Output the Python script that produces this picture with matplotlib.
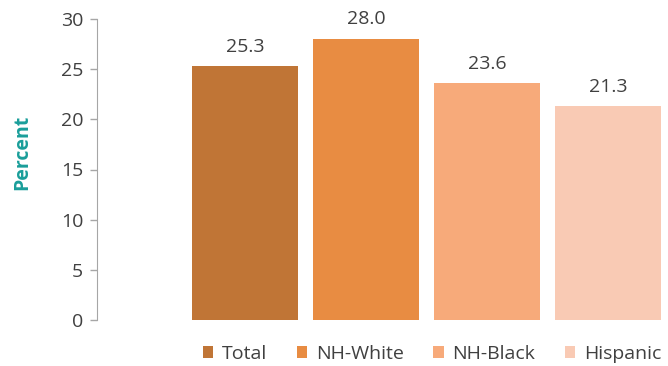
import matplotlib
matplotlib.use("Agg")
import matplotlib.pyplot as plt
from matplotlib.patches import Patch

# data
groups = ["Total", "NH-White", "NH-Black", "Hispanic"]
percent = [25.3, 28.0, 23.6, 21.3]
colors = ["#C07536", "#E88C42", "#F7AA7A", "#F9CAB4"]
yticks = [0, 5, 10, 15, 20, 25, 30]

text_color = "#404040"
teal = "#1A9E9A"
plt.rcParams["font.family"] = ["Open Sans", "DejaVu Sans"]

fig = plt.figure(figsize=(6.68, 3.66), dpi=100)
ax = fig.add_axes([97 / 668, 46 / 366, 568 / 668, 301 / 366])

xs = list(range(1, len(groups) + 1))
ax.bar(xs, percent, width=0.874, color=colors)

for x, v in zip(xs, percent):
    ax.annotate(f"{v:.1f}", (x, v), xytext=(0, 10.5), textcoords="offset points",
                ha="center", va="baseline", fontsize=14, color=text_color)

ax.set_xlim(-0.22, 4.47)
ax.set_ylim(0, 30)
ax.set_yticks(yticks)
ax.set_xticks([])
ax.tick_params(axis="y", direction="out", length=5, width=1, color="#A6A6A6",
               labelsize=14, labelcolor=text_color, pad=5)
for side in ["top", "right", "bottom"]:
    ax.spines[side].set_visible(False)
ax.spines["left"].set_color("#A6A6A6")

fig.text(22 / 668, 1 - 152 / 366, "Percent", rotation=90, ha="center", va="center",
         fontsize=14, fontweight="bold", color=teal)

handles = [Patch(facecolor=c, edgecolor="none") for c in colors]
fig.legend(handles, groups, loc="center", bbox_to_anchor=(432 / 668, 1 - 354 / 366),
           ncol=4, frameon=False, fontsize=14, labelcolor=text_color,
           handlelength=0.55, handleheight=0.55, handletextpad=0.45, columnspacing=1.5)

fig.savefig("out.png", dpi=100)
